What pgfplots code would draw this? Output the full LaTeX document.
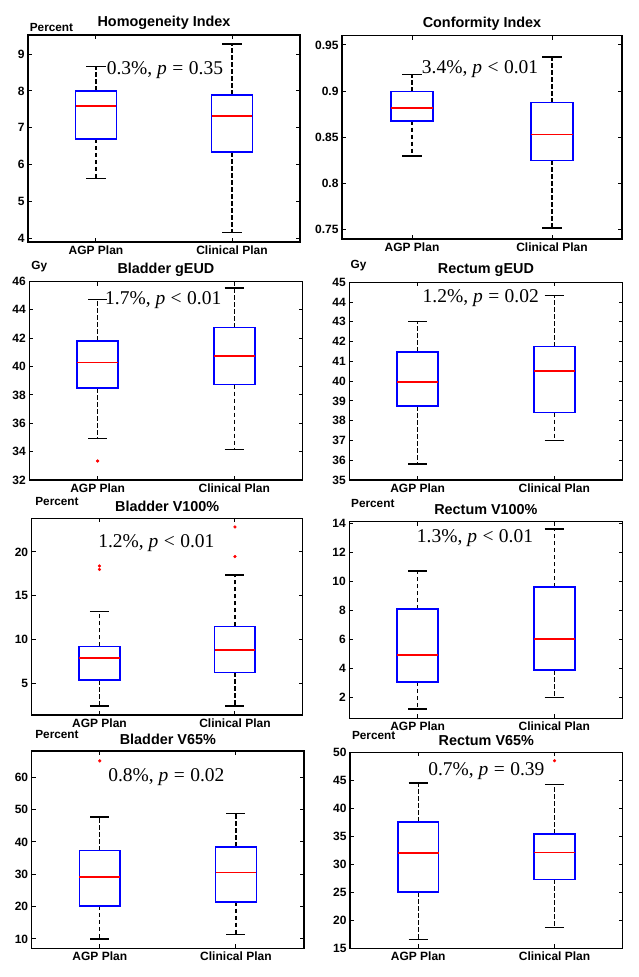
\documentclass[border=0pt]{standalone}
\usepackage{fontspec}
\setmainfont{Liberation Sans}
\newfontfamily\tnr{Liberation Serif}
\usepackage{pgfplots}
\pgfplotsset{compat=1.18}
\usepgfplotslibrary{statistics}

\pgfplotsset{
  boxplot/draw/whisker/.code 2 args={%
    \draw[black, line width=1.2pt, dash pattern=on 4.5pt off 2.5pt]
      (boxplot box cs:#1,0.5) -- (boxplot box cs:#2,0.5);
    \draw[black, line width=1.4pt]
      (boxplot whisker cs:#2,0) -- (boxplot whisker cs:#2,1);
  },
  boxplot/every box/.style={draw=blue, line width=1.7pt},
  boxplot/every median/.style={draw=red, line width=1.7pt},
  panel/.style={
    scale only axis,
    anchor=north west,
    xmin=0.5, xmax=2.5,
    xtick={1,2}, xticklabels={AGP Plan, Clinical Plan},
    axis line style={line width=1.4pt, black},
    tick style={line width=1pt, black},
    major tick length=4pt,
    tick align=inside,
    clip=false,
    ticklabel style={font=\bfseries\fontsize{12}{12}\selectfont},
    /pgf/number format/assume math mode=true,
    every axis title/.style={font=\bfseries\fontsize{14.4}{14.4}\selectfont, at={(0.5,1)}, anchor=center, yshift=12pt},
    boxplot/draw direction=y,
  },
  bx/.style={
    mark=*, mark size=1.4pt, mark options={draw=red, fill=red},
    boxplot/draw direction=y,
    boxplot/box extend=0.3,
    boxplot/whisker extend=0.14,
  },
}
\newcommand{\ann}{\tnr\fontsize{19.5}{19.5}\selectfont}
\newcommand{\unitf}{\bfseries\fontsize{11.8}{11.8}\selectfont}

\begin{document}
\begin{tikzpicture}
\useasboundingbox (0,0) rectangle (639pt,-977pt);

% Panel 1
\begin{axis}[panel, at={(28pt,-35pt)}, width=272pt, height=207pt,
  ymin=3.9, ymax=9.52, ytick={4,5,6,7,8,9}, title={Homogeneity Index}]
\addplot[bx, boxplot prepared={draw position=1, lower whisker=5.63, lower quartile=6.7, median=7.6, upper quartile=8.0, upper whisker=8.67}] coordinates {};
\addplot[bx, boxplot prepared={draw position=2, lower whisker=4.15, lower quartile=6.34, median=7.32, upper quartile=7.9, upper whisker=9.28}] coordinates {};
\node[font=\ann] at (axis cs:1.507,8.57) {0.3\%, {\itshape p}\hspace{0.28em}=\hspace{0.28em}0.35};
\node[font=\unitf] at ([xshift=23.5pt,yshift=7.3pt]rel axis cs:0,1) {Percent};
\end{axis}

% Panel 2
\begin{axis}[panel, at={(342pt,-35.7pt)}, width=280pt, height=203.3pt,
  ymin=0.74, ymax=0.96, ytick={0.75,0.8,0.85,0.9,0.95}, title={Conformity Index}]
\addplot[bx, boxplot prepared={draw position=1, lower whisker=0.83, lower quartile=0.868, median=0.882, upper quartile=0.8995, upper whisker=0.918}] coordinates {};
\addplot[bx, boxplot prepared={draw position=2, lower whisker=0.752, lower quartile=0.825, median=0.853, upper quartile=0.8876, upper whisker=0.937}] coordinates {};
\node[font=\ann] at (axis cs:1.486,0.924) {3.4\%, {\itshape p}\hspace{0.28em}<\hspace{0.28em}0.01};
\end{axis}

% Panel 3
\begin{axis}[panel, at={(29.3pt,-281.5pt)}, width=273.3pt, height=198.5pt,
  ymin=32, ymax=46, ytick={32,34,...,46}, title={Bladder gEUD}]
\addplot[bx, boxplot prepared={draw position=1, lower whisker=34.92, lower quartile=38.47, median=40.28, upper quartile=41.81, upper whisker=44.75}] coordinates {(1,33.34)};
\addplot[bx, boxplot prepared={draw position=2, lower whisker=34.14, lower quartile=38.73, median=40.73, upper quartile=42.75, upper whisker=45.53}] coordinates {};
\node[font=\ann] at (axis cs:1.48,44.7) {1.7\%, {\itshape p}\hspace{0.28em}<\hspace{0.28em}0.01};
\node[font=\unitf] at ([xshift=10pt,yshift=14.8pt]rel axis cs:0,1) {Gy};
\end{axis}

% Panel 4
\begin{axis}[panel, at={(349.3pt,-282.3pt)}, width=273.3pt, height=197.7pt,
  ymin=35, ymax=45, ytick={35,36,...,45}, title={Rectum gEUD}]
\addplot[bx, boxplot prepared={draw position=1, lower whisker=35.81, lower quartile=38.73, median=39.97, upper quartile=41.49, upper whisker=43.03}] coordinates {};
\addplot[bx, boxplot prepared={draw position=2, lower whisker=37.0, lower quartile=38.41, median=40.51, upper quartile=41.75, upper whisker=44.32}] coordinates {};
\node[font=\ann] at (axis cs:1.462,44.19) {1.2\%, {\itshape p}\hspace{0.28em}=\hspace{0.28em}0.02};
\node[font=\unitf] at ([xshift=9.3pt,yshift=16.3pt]rel axis cs:0,1) {Gy};
\end{axis}

% Panel 5
\begin{axis}[panel, at={(31.7pt,-518.3pt)}, width=271pt, height=196.7pt,
  ymin=1.35, ymax=23.85, ytick={5,10,15,20}, title={Bladder V100\%}]
\addplot[bx, boxplot prepared={draw position=1, lower whisker=2.4, lower quartile=5.34, median=7.9, upper quartile=9.2, upper whisker=13.2}] coordinates {(1,18.0) (1,18.4)};
\addplot[bx, boxplot prepared={draw position=2, lower whisker=2.4, lower quartile=6.22, median=8.82, upper quartile=11.49, upper whisker=17.37}] coordinates {(2,19.47) (2,22.86)};
\node[font=\ann] at (axis cs:1.42,21.07) {1.2\%, {\itshape p}\hspace{0.28em}<\hspace{0.28em}0.01};
\node[font=\unitf] at ([xshift=25.3pt,yshift=16.6pt]rel axis cs:0,1) {Percent};
\end{axis}

% Panel 6
\begin{axis}[panel, at={(349.3pt,-521.7pt)}, width=273.3pt, height=196.6pt,
  ymin=0.55, ymax=14.1, ytick={2,4,...,14}, title={Rectum V100\%}]
\addplot[bx, boxplot prepared={draw position=1, lower whisker=1.2, lower quartile=3.06, median=4.9, upper quartile=8.07, upper whisker=10.71}] coordinates {};
\addplot[bx, boxplot prepared={draw position=2, lower whisker=2.0, lower quartile=3.86, median=6.02, upper quartile=9.59, upper whisker=13.59}] coordinates {};
\node[font=\ann] at (axis cs:1.42,12.97) {1.3\%, {\itshape p}\hspace{0.28em}<\hspace{0.28em}0.01};
\node[font=\unitf] at ([xshift=23.5pt,yshift=18.4pt]rel axis cs:0,1) {Percent};
\end{axis}

% Panel 7
\begin{axis}[panel, at={(31.7pt,-751pt)}, width=272.3pt, height=197.3pt,
  ymin=7.1, ymax=68.1, ytick={10,20,...,60}, title={Bladder V65\%}]
\addplot[bx, boxplot prepared={draw position=1, lower whisker=10, lower quartile=20.2, median=29.2, upper quartile=37.3, upper whisker=47.7}] coordinates {(1,65.05)};
\addplot[bx, boxplot prepared={draw position=2, lower whisker=11.4, lower quartile=21.5, median=30.5, upper quartile=38.5, upper whisker=48.8}] coordinates {};
\node[font=\ann] at (axis cs:1.489,59.9) {0.8\%, {\itshape p}\hspace{0.28em}=\hspace{0.28em}0.02};
\node[font=\unitf] at ([xshift=25.3pt,yshift=16.7pt]rel axis cs:0,1) {Percent};
\end{axis}

% Panel 8
\begin{axis}[panel, at={(350pt,-752.3pt)}, width=272.7pt, height=196pt,
  ymin=15, ymax=50, ytick={15,20,...,50}, title={Rectum V65\%}]
\addplot[bx, boxplot prepared={draw position=1, lower whisker=16.55, lower quartile=25.0, median=32.0, upper quartile=37.6, upper whisker=44.5}] coordinates {};
\addplot[bx, boxplot prepared={draw position=2, lower whisker=18.7, lower quartile=27.3, median=32.1, upper quartile=35.45, upper whisker=44.3}] coordinates {(2,48.5)};
\node[font=\ann] at (axis cs:1.50,46.6) {0.7\%, {\itshape p}\hspace{0.28em}=\hspace{0.28em}0.39};
\node[font=\unitf] at ([xshift=23.7pt,yshift=17.3pt]rel axis cs:0,1) {Percent};
\end{axis}

\end{tikzpicture}
\end{document}
